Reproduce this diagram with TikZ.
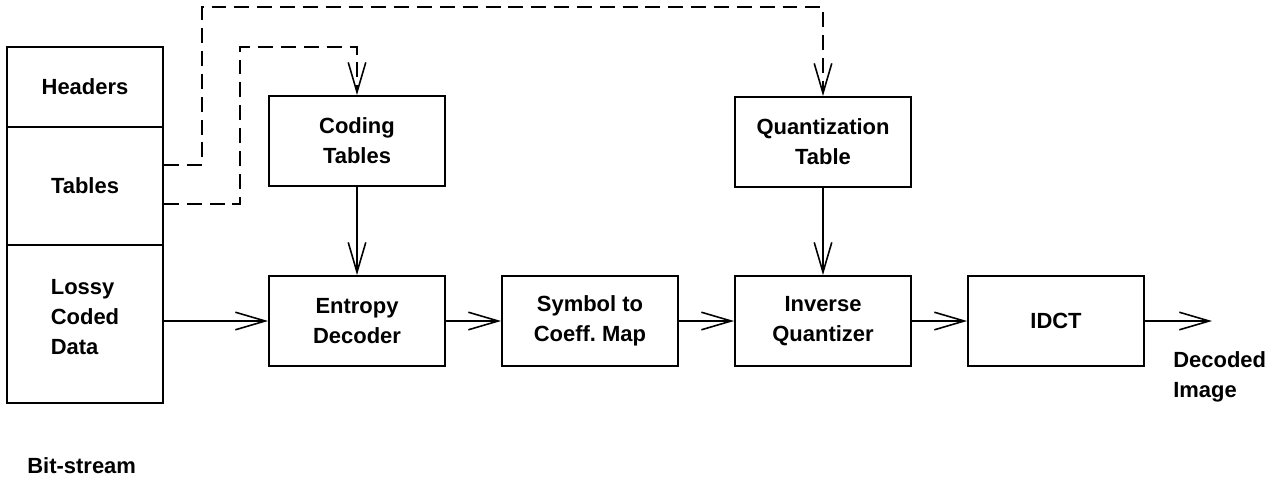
\documentclass[tikz,border=0pt]{standalone}
\usepackage{fontspec}
\setmainfont{Liberation Sans}
\usepackage{tikz}
\usetikzlibrary{arrows.meta,positioning}
\frenchspacing
\tikzset{
    block-box/.style = {draw, line width=1.1pt, rectangle, minimum width=3.52cm, minimum height=1.8cm, align=center, inner sep=0pt},
    stack-box/.style = {draw, line width=1.1pt, rectangle, minimum width=3.12cm, align=center, inner sep=0pt},
    plain-label/.style = {align=left, inner sep=0pt},
    data-flow/.style = {line width=0.9pt, -{Straight Barb[length=17pt,width=10pt,line width=0.9pt]}},
    table-flow/.style = {data-flow, dash pattern=on 8.5pt off 4.5pt},
}

\begin{document}
\begin{tikzpicture}[x=0.02cm, y=-0.02cm, font=\bfseries\fontsize{12.5}{17}\selectfont]
\useasboundingbox (0,0) rectangle (1274,478);
% bit-stream stack
\node [stack-box, minimum height=1.6cm] (headers) at (85,87) {Headers};
\node [stack-box, minimum height=2.36cm] (tables) at (85,186) {Tables};
\node [stack-box, minimum height=3.16cm, align=left] (lossy) at (85,324) {Lossy\\Coded\\Data\\[-9pt]};
\node [plain-label, anchor=base west] (bitstream) at (27,473) {Bit-stream};

% decoder blocks
\node [block-box] (coding) at (357,141) {Coding\\Tables};
\node [block-box] (quant) at (823,142) {Quantization\\Table};
\node [block-box] (entropy) at (357,321) {Entropy\\Decoder};
\node [block-box] (symbol) at (590,321) {Symbol to\\Coeff. Map};
\node [block-box] (invquant) at (823,321) {Inverse\\Quantizer};
\node [block-box] (idct) at (1056,321) {IDCT};
\node [plain-label, anchor=north west] (decoded) at (1173,351) {Decoded\\Image};

% table paths
\coordinate (q-turn) at (202,7);
\coordinate (c-turn) at (240,47);
\draw [table-flow] ([yshift=0.42cm]tables.east) -| (q-turn) -| (quant.north);
\draw [table-flow] ([yshift=-0.36cm]tables.east) -| (c-turn) -| (coding.north);

% data paths
\coordinate (out-end) at (1212,321);
\draw [data-flow] (coding) -- (entropy);
\draw [data-flow] (quant) -- (invquant);
\draw [data-flow] (lossy.east |- entropy) -- (entropy);
\draw [data-flow] (entropy) -- (symbol);
\draw [data-flow] (symbol) -- (invquant);
\draw [data-flow] (invquant) -- (idct);
\draw [data-flow] (idct) -- (out-end);
\end{tikzpicture}
\end{document}
